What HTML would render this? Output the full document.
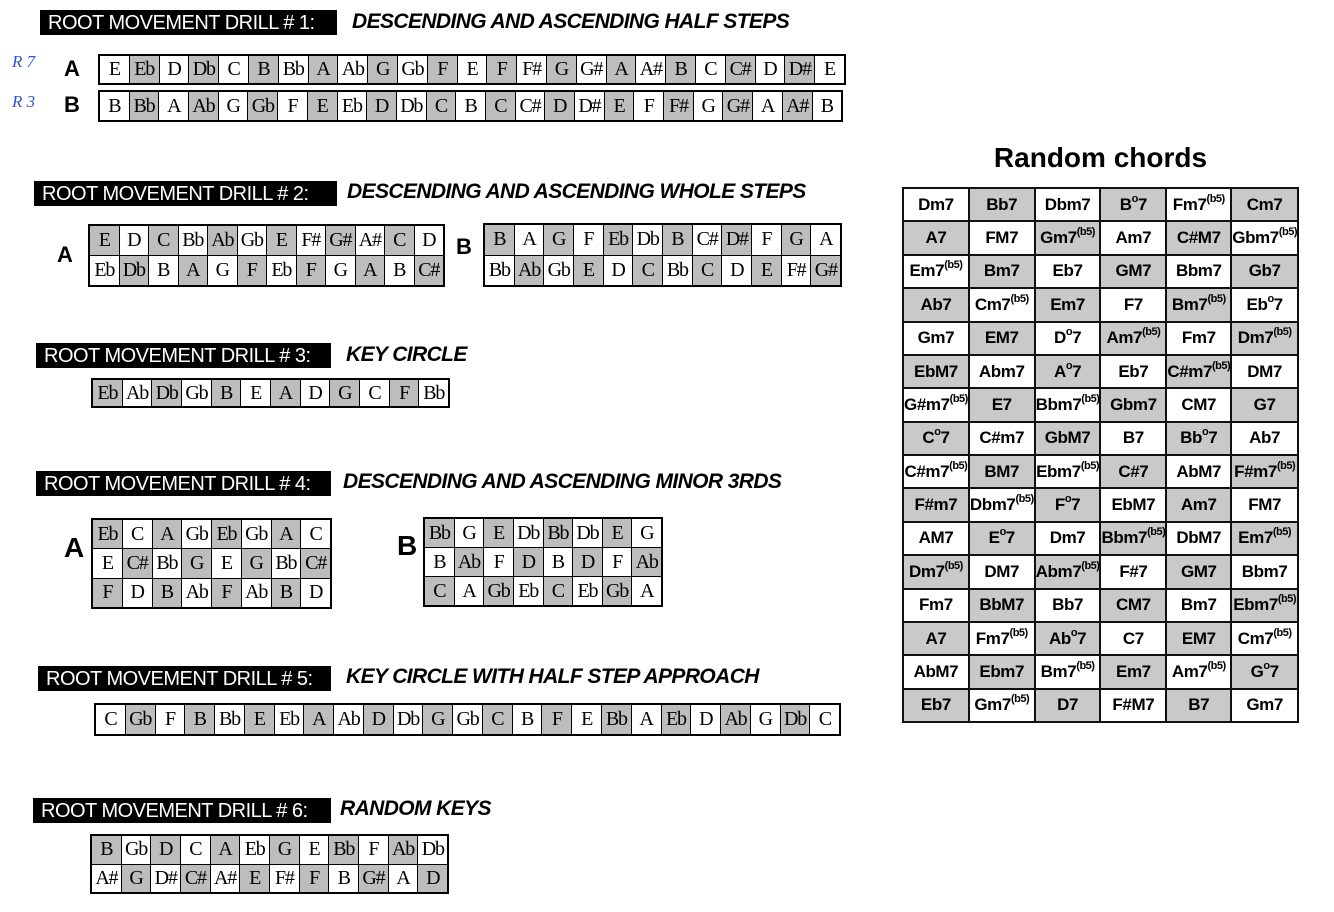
<!DOCTYPE html>
<html><head><meta charset="utf-8"><style>
body{margin:0;width:1334px;height:912px;background:#fff;position:relative;overflow:hidden;font-family:"Liberation Sans",sans-serif}
.hd{position:absolute;background:#000;color:#fff;font-size:20px;height:25px;line-height:26px;padding-left:8px;box-sizing:border-box;letter-spacing:-0.5px;white-space:nowrap}
.it{position:absolute;font-weight:bold;font-style:italic;font-size:21px;letter-spacing:-0.6px;white-space:nowrap}
.t{position:absolute;border:2px solid #000;box-sizing:border-box;display:flex;flex-direction:column;background:#000;gap:1px}
.r{display:flex;flex:1;gap:1px}
.r div{flex:1;background:#fff;font-family:"Liberation Serif",serif;font-size:20px;letter-spacing:-1.2px;display:flex;align-items:center;justify-content:center;white-space:nowrap}
.r div.s{background:#bdbdbd}
.lb{position:absolute;font-weight:bold;font-size:22px}
.hw{position:absolute;color:#3355cc;font-family:"Liberation Serif",serif;font-style:italic;font-size:17px}
.ch{position:absolute;left:902px;top:187px;width:397px;height:536px;background:#111;display:grid;grid-template-columns:repeat(6,1fr);grid-template-rows:repeat(16,1fr);gap:2px;padding:2px;box-sizing:border-box}
.ch div{background:#fff;font-weight:bold;font-size:17px;display:flex;align-items:center;justify-content:center;white-space:nowrap;letter-spacing:-0.4px}
.ch div.s{background:#c9c9c9}
sup{font-size:11px;position:relative;top:-6px;vertical-align:baseline;letter-spacing:-0.5px}
</style></head><body>

<div class="hd" style="left:40px;top:10px;width:297px">ROOT MOVEMENT DRILL # 1:</div>
<div class="it" style="left:352px;top:10px">DESCENDING AND ASCENDING HALF STEPS</div>
<div class="hw" style="left:12px;top:52px">R 7</div>
<div class="hw" style="left:12px;top:92px">R 3</div>
<div class="lb" style="left:64px;top:56px">A</div>
<div class="lb" style="left:64px;top:92px">B</div>
<div class="t" style="left:98px;top:54px;width:748px;height:31px"><div class="r">
<div>E</div><div class="s">Eb</div><div>D</div><div class="s">Db</div><div>C</div><div class="s">B</div><div>Bb</div><div class="s">A</div><div>Ab</div><div class="s">G</div><div>Gb</div><div class="s">F</div><div>E</div><div class="s">F</div><div>F#</div><div class="s">G</div><div>G#</div><div class="s">A</div><div>A#</div><div class="s">B</div><div>C</div><div class="s">C#</div><div>D</div><div class="s">D#</div><div>E</div></div></div>
<div class="t" style="left:98px;top:90px;width:745px;height:32px"><div class="r">
<div>B</div><div class="s">Bb</div><div>A</div><div class="s">Ab</div><div>G</div><div class="s">Gb</div><div>F</div><div class="s">E</div><div>Eb</div><div class="s">D</div><div>Db</div><div class="s">C</div><div>B</div><div class="s">C</div><div>C#</div><div class="s">D</div><div>D#</div><div class="s">E</div><div>F</div><div class="s">F#</div><div>G</div><div class="s">G#</div><div>A</div><div class="s">A#</div><div>B</div></div></div>

<div class="hd" style="left:34px;top:181px;width:303px">ROOT MOVEMENT DRILL # 2:</div>
<div class="it" style="left:347px;top:180px">DESCENDING AND ASCENDING WHOLE STEPS</div>
<div class="lb" style="left:57px;top:242px">A</div>
<div class="lb" style="left:456px;top:234px">B</div>
<div class="t" style="left:88px;top:224px;width:357px;height:63px">
<div class="r"><div class="s">E</div><div>D</div><div class="s">C</div><div>Bb</div><div class="s">Ab</div><div>Gb</div><div class="s">E</div><div>F#</div><div class="s">G#</div><div>A#</div><div class="s">C</div><div>D</div></div>
<div class="r"><div>Eb</div><div class="s">Db</div><div>B</div><div class="s">A</div><div>G</div><div class="s">F</div><div>Eb</div><div class="s">F</div><div>G</div><div class="s">A</div><div>B</div><div class="s">C#</div></div></div>
<div class="t" style="left:483px;top:223px;width:359px;height:64px">
<div class="r"><div class="s">B</div><div>A</div><div class="s">G</div><div>F</div><div class="s">Eb</div><div>Db</div><div class="s">B</div><div>C#</div><div class="s">D#</div><div>F</div><div class="s">G</div><div>A</div></div>
<div class="r"><div>Bb</div><div class="s">Ab</div><div>Gb</div><div class="s">E</div><div>D</div><div class="s">C</div><div>Bb</div><div class="s">C</div><div>D</div><div class="s">E</div><div>F#</div><div class="s">G#</div></div></div>

<div class="hd" style="left:36px;top:343px;width:295px">ROOT MOVEMENT DRILL # 3:</div>
<div class="it" style="left:346px;top:343px">KEY CIRCLE</div>
<div class="t" style="left:91px;top:378px;width:359px;height:30px"><div class="r">
<div class="s">Eb</div><div>Ab</div><div class="s">Db</div><div>Gb</div><div class="s">B</div><div>E</div><div class="s">A</div><div>D</div><div class="s">G</div><div>C</div><div class="s">F</div><div>Bb</div></div></div>

<div class="hd" style="left:36px;top:471px;width:295px">ROOT MOVEMENT DRILL # 4:</div>
<div class="it" style="left:343px;top:470px">DESCENDING AND ASCENDING MINOR 3RDS</div>
<div class="lb" style="left:64px;top:532px;font-size:28px">A</div>
<div class="lb" style="left:397px;top:530px;font-size:28px">B</div>
<div class="t" style="left:91px;top:518px;width:241px;height:91px">
<div class="r"><div class="s">Eb</div><div>C</div><div class="s">A</div><div>Gb</div><div class="s">Eb</div><div>Gb</div><div class="s">A</div><div>C</div></div>
<div class="r"><div>E</div><div class="s">C#</div><div>Bb</div><div class="s">G</div><div>E</div><div class="s">G</div><div>Bb</div><div class="s">C#</div></div>
<div class="r"><div class="s">F</div><div>D</div><div class="s">B</div><div>Ab</div><div class="s">F</div><div>Ab</div><div class="s">B</div><div>D</div></div></div>
<div class="t" style="left:423px;top:517px;width:240px;height:90px">
<div class="r"><div class="s">Bb</div><div>G</div><div class="s">E</div><div>Db</div><div class="s">Bb</div><div>Db</div><div class="s">E</div><div>G</div></div>
<div class="r"><div>B</div><div class="s">Ab</div><div>F</div><div class="s">D</div><div>B</div><div class="s">D</div><div>F</div><div class="s">Ab</div></div>
<div class="r"><div class="s">C</div><div>A</div><div class="s">Gb</div><div>Eb</div><div class="s">C</div><div>Eb</div><div class="s">Gb</div><div>A</div></div></div>

<div class="hd" style="left:38px;top:666px;width:293px">ROOT MOVEMENT DRILL # 5:</div>
<div class="it" style="left:346px;top:665px">KEY CIRCLE WITH HALF STEP APPROACH</div>
<div class="t" style="left:94px;top:703px;width:747px;height:33px"><div class="r">
<div>C</div><div class="s">Gb</div><div>F</div><div class="s">B</div><div>Bb</div><div class="s">E</div><div>Eb</div><div class="s">A</div><div>Ab</div><div class="s">D</div><div>Db</div><div class="s">G</div><div>Gb</div><div class="s">C</div><div>B</div><div class="s">F</div><div>E</div><div class="s">Bb</div><div>A</div><div class="s">Eb</div><div>D</div><div class="s">Ab</div><div>G</div><div class="s">Db</div><div>C</div></div></div>

<div class="hd" style="left:33px;top:798px;width:298px">ROOT MOVEMENT DRILL # 6:</div>
<div class="it" style="left:340px;top:797px">RANDOM KEYS</div>
<div class="t" style="left:90px;top:834px;width:359px;height:60px">
<div class="r"><div class="s">B</div><div>Gb</div><div class="s">D</div><div>C</div><div class="s">A</div><div>Eb</div><div class="s">G</div><div>E</div><div class="s">Bb</div><div>F</div><div class="s">Ab</div><div>Db</div></div>
<div class="r"><div>A#</div><div class="s">G</div><div>D#</div><div class="s">C#</div><div>A#</div><div class="s">E</div><div>F#</div><div class="s">F</div><div>B</div><div class="s">G#</div><div>A</div><div class="s">D</div></div></div>

<div style="position:absolute;left:902px;width:397px;top:142px;text-align:center;font-weight:bold;font-size:28px">Random chords</div>
<div class="ch">
<div>Dm7</div><div class="s">Bb7</div><div>Dbm7</div><div class="s">B<sup>o</sup>7</div><div>Fm7<sup>(b5)</sup></div><div class="s">Cm7</div>
<div class="s">A7</div><div>FM7</div><div class="s">Gm7<sup>(b5)</sup></div><div>Am7</div><div class="s">C#M7</div><div>Gbm7<sup>(b5)</sup></div>
<div>Em7<sup>(b5)</sup></div><div class="s">Bm7</div><div>Eb7</div><div class="s">GM7</div><div>Bbm7</div><div class="s">Gb7</div>
<div class="s">Ab7</div><div>Cm7<sup>(b5)</sup></div><div class="s">Em7</div><div>F7</div><div class="s">Bm7<sup>(b5)</sup></div><div>Eb<sup>o</sup>7</div>
<div>Gm7</div><div class="s">EM7</div><div>D<sup>o</sup>7</div><div class="s">Am7<sup>(b5)</sup></div><div>Fm7</div><div class="s">Dm7<sup>(b5)</sup></div>
<div class="s">EbM7</div><div>Abm7</div><div class="s">A<sup>o</sup>7</div><div>Eb7</div><div class="s">C#m7<sup>(b5)</sup></div><div>DM7</div>
<div>G#m7<sup>(b5)</sup></div><div class="s">E7</div><div>Bbm7<sup>(b5)</sup></div><div class="s">Gbm7</div><div>CM7</div><div class="s">G7</div>
<div class="s">C<sup>o</sup>7</div><div>C#m7</div><div class="s">GbM7</div><div>B7</div><div class="s">Bb<sup>o</sup>7</div><div>Ab7</div>
<div>C#m7<sup>(b5)</sup></div><div class="s">BM7</div><div>Ebm7<sup>(b5)</sup></div><div class="s">C#7</div><div>AbM7</div><div class="s">F#m7<sup>(b5)</sup></div>
<div class="s">F#m7</div><div>Dbm7<sup>(b5)</sup></div><div class="s">F<sup>o</sup>7</div><div>EbM7</div><div class="s">Am7</div><div>FM7</div>
<div>AM7</div><div class="s">E<sup>o</sup>7</div><div>Dm7</div><div class="s">Bbm7<sup>(b5)</sup></div><div>DbM7</div><div class="s">Em7<sup>(b5)</sup></div>
<div class="s">Dm7<sup>(b5)</sup></div><div>DM7</div><div class="s">Abm7<sup>(b5)</sup></div><div>F#7</div><div class="s">GM7</div><div>Bbm7</div>
<div>Fm7</div><div class="s">BbM7</div><div>Bb7</div><div class="s">CM7</div><div>Bm7</div><div class="s">Ebm7<sup>(b5)</sup></div>
<div class="s">A7</div><div>Fm7<sup>(b5)</sup></div><div class="s">Ab<sup>o</sup>7</div><div>C7</div><div class="s">EM7</div><div>Cm7<sup>(b5)</sup></div>
<div>AbM7</div><div class="s">Ebm7</div><div>Bm7<sup>(b5)</sup></div><div class="s">Em7</div><div>Am7<sup>(b5)</sup></div><div class="s">G<sup>o</sup>7</div>
<div class="s">Eb7</div><div>Gm7<sup>(b5)</sup></div><div class="s">D7</div><div>F#M7</div><div class="s">B7</div><div>Gm7</div>
</div>
</body></html>
